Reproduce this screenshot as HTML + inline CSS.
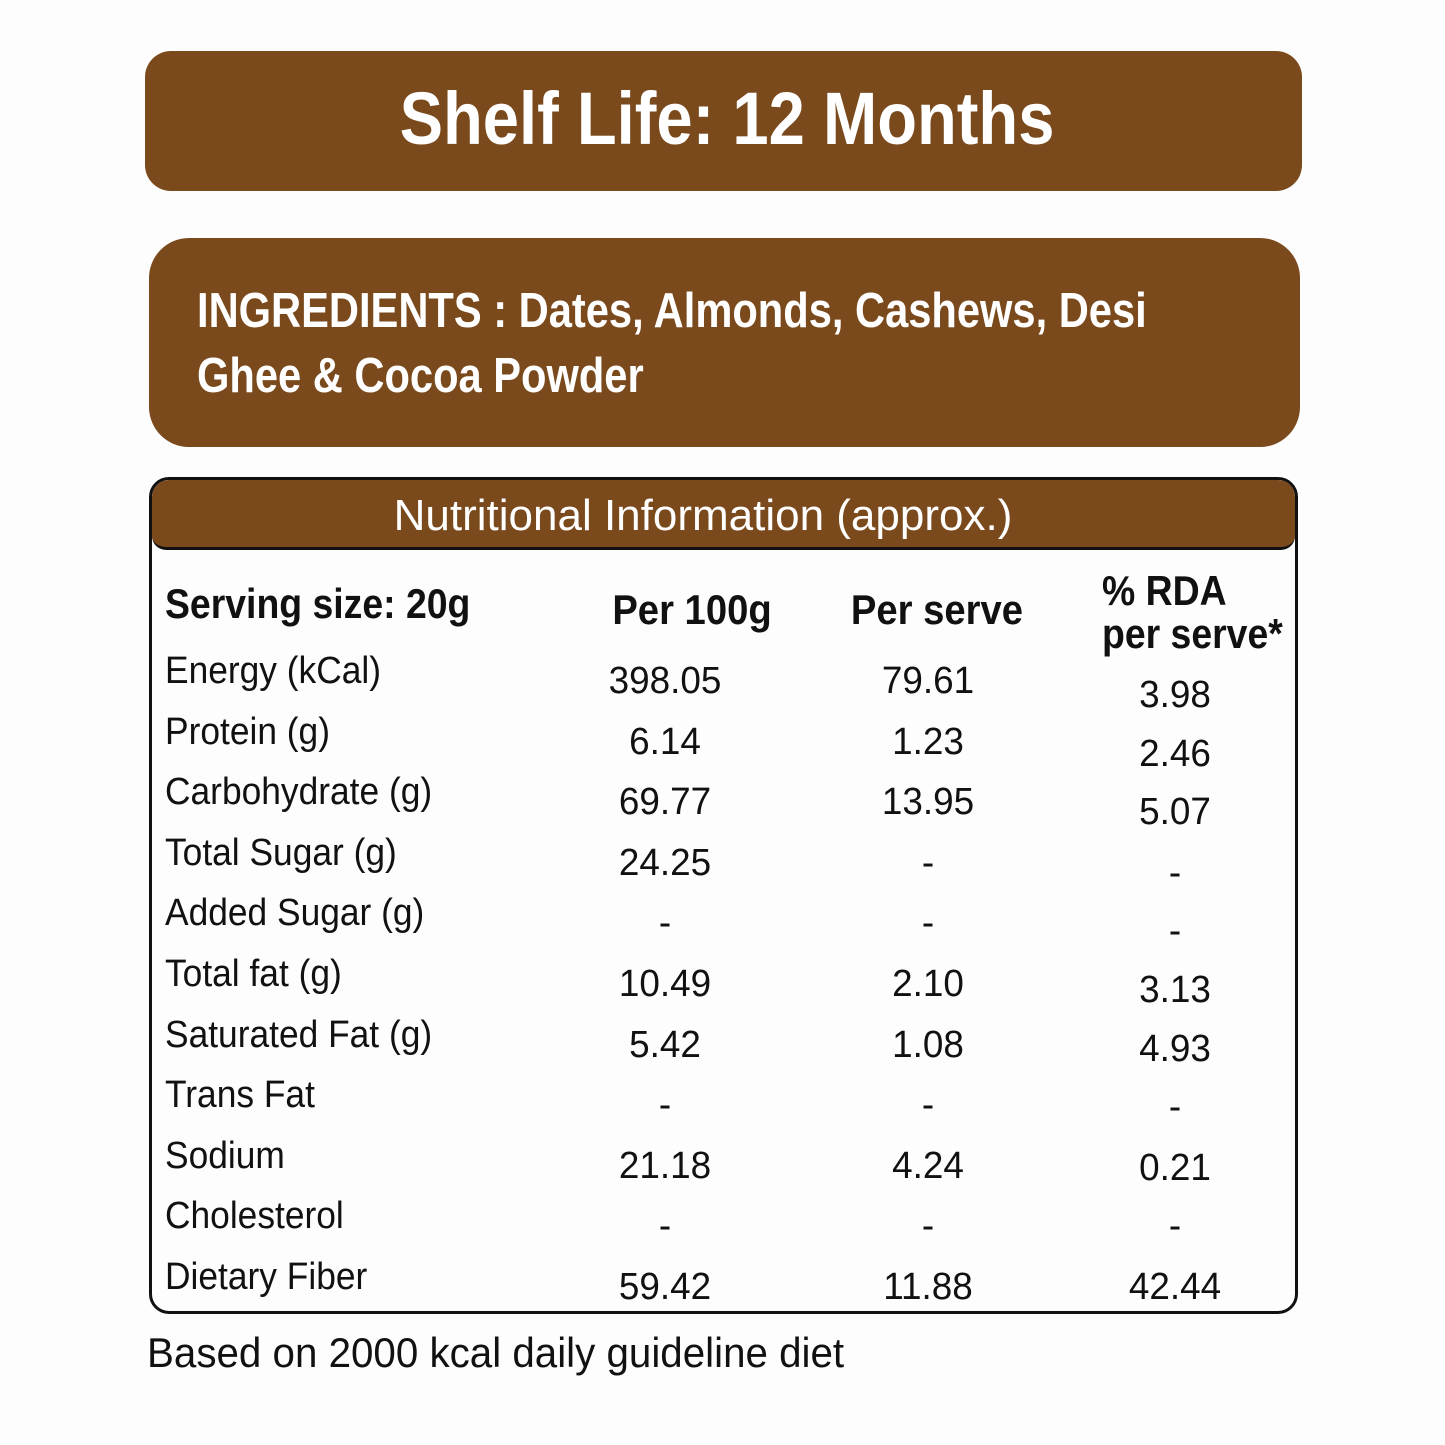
<!DOCTYPE html>
<html><head><meta charset="utf-8"><style>
body{margin:0;width:1445px;height:1445px;background:#fdfdfd;position:relative;overflow:hidden;font-family:"Liberation Sans",sans-serif;}
.t{position:absolute;white-space:nowrap;line-height:1;color:#111;}
.l{transform:scaleX(0.89);transform-origin:left center;}
</style></head><body>
<div style="position:absolute;left:145px;top:51px;width:1157px;height:140px;background:#7a4a1d;border-radius:26px;"></div>
<div class="t" style="left:727px;top:82px;font-size:74px;font-weight:bold;color:#fff;transform:translateX(-50%) scaleX(0.88);">Shelf Life: 12 Months</div>

<div style="position:absolute;left:149px;top:238px;width:1151px;height:209px;background:#7a4a1d;border-radius:40px;"></div>
<div class="t" style="left:197px;top:287px;font-size:49px;font-weight:bold;color:#fff;transform:scaleX(0.85);transform-origin:left center;">INGREDIENTS : Dates, Almonds, Cashews, Desi</div>
<div class="t" style="left:197px;top:352px;font-size:49px;font-weight:bold;color:#fff;transform:scaleX(0.85);transform-origin:left center;">Ghee &amp; Cocoa Powder</div>

<div style="position:absolute;left:149px;top:477px;width:1143px;height:831px;border:3px solid #111;border-radius:20px;overflow:hidden;">
 <div style="position:absolute;left:0;top:0;width:100%;height:67px;background:#7a4a1d;border-bottom:3px solid #111;border-radius:0 0 14px 14px;"></div>
</div>
<div class="t" style="left:703px;top:494px;font-size:44px;color:#fff;transform:translateX(-50%) scaleX(1.0);">Nutritional Information (approx.)</div>

<div class="t l" style="left:165px;top:583px;font-size:42px;font-weight:bold;">Serving size: 20g</div>
<div class="t" style="left:692px;top:589px;font-size:42px;font-weight:bold;transform:translateX(-50%) scaleX(0.91);">Per 100g</div>
<div class="t" style="left:937px;top:589px;font-size:42px;font-weight:bold;transform:translateX(-50%) scaleX(0.91);">Per serve</div>
<div class="t l" style="left:1102px;top:570px;font-size:42px;font-weight:bold;">% RDA</div>
<div class="t l" style="left:1102px;top:613px;font-size:42px;font-weight:bold;">per serve*</div>

<div class="t" style="left:147px;top:1332px;font-size:42px;transform:scaleX(0.96);transform-origin:left center;">Based on 2000 kcal daily guideline diet</div>

<script>
const labels=["Energy (kCal)","Protein (g)","Carbohydrate (g)","Total Sugar (g)","Added Sugar (g)","Total fat (g)","Saturated Fat (g)","Trans Fat","Sodium","Cholesterol","Dietary Fiber"];
const per100=["398.05","6.14","69.77","24.25","-","10.49","5.42","-","21.18","-","59.42"];
const perServe=["79.61","1.23","13.95","-","-","2.10","1.08","-","4.24","-","11.88"];
const rda=["3.98","2.46","5.07","-","-","3.13","4.93","-","0.21","-","42.44"];
const rdaOff=[14,12,10,10,8,6,4,2,2,0,0];
const root=document.body;
function add(txt,x,top,center,scale,name){
 const d=document.createElement('div');
 d.className='t';
 d.textContent=txt;
 d.style.left=x+'px';d.style.top=top+'px';d.style.fontSize='38px';
 d.style.transform=center?'translateX(-50%) scaleX('+scale+')':'scaleX('+scale+')';
 d.style.transformOrigin=center?'50% 50%':'left center';
 
 
 root.appendChild(d);
}
labels.forEach((lab,i)=>{
 const base=686+i*60.6;
 const top=base-32;
 add(lab,165,top-2,false,0.93,'row-label');
 add(per100[i],665,top+8,true,0.97,'per-100g-value');
 add(perServe[i],928,top+8,true,0.97,'per-serve-value');
 add(rda[i],1175,top+8+rdaOff[i],true,0.97,'rda-value');
});
</script>
</body></html>
